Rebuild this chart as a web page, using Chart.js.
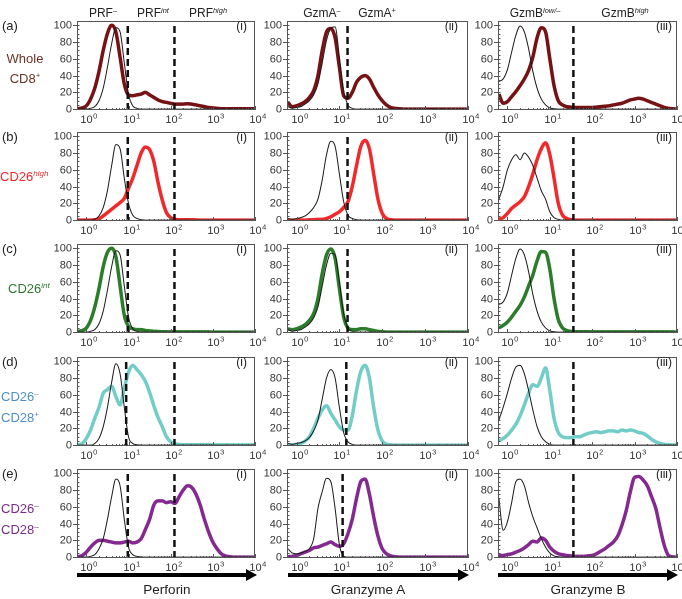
<!DOCTYPE html>
<html><head><meta charset="utf-8">
<script src="https://cdn.jsdelivr.net/npm/chart.js@4.4.1/dist/chart.umd.min.js"></script>
<style>
body{margin:0;width:682px;height:599px;position:relative;background:#fff;font-family:"Liberation Sans",Arial,Helvetica,sans-serif;overflow:hidden;color:#222}
.c,.l,.r{position:absolute;white-space:nowrap;line-height:1}
.c{transform:translate(-50%,-50%)}
.l,.r{transform:translateY(-50%)}
sup{font-size:0.62em;vertical-align:0;position:relative;top:-0.6em}
canvas{position:absolute}
.h{font-size:12px}
.n{font-size:13px}
.p{font-size:12px}
.ttl{font-size:13.5px}
</style></head><body>
<svg style="position:absolute;left:0;top:0" width="682" height="599">
 <line x1="77" y1="575" x2="248" y2="575" stroke="#000" stroke-width="4"/>
 <polygon points="246,569 257,575 246,581" fill="#000"/>
 <line x1="288" y1="575" x2="460" y2="575" stroke="#000" stroke-width="4"/>
 <polygon points="458,569 469,575 458,581" fill="#000"/>
 <line x1="498" y1="575" x2="669" y2="575" stroke="#000" stroke-width="4"/>
 <polygon points="667,569 678,575 667,581" fill="#000"/>
</svg>
<div id="root"></div>
<script>
// ---------- data ----------
const logGrid = [-0.2,-0.1,0,0.1,0.2,0.3,0.4,0.5,0.6,0.7,0.8,0.9,1,1.1,1.2,1.3,1.4,1.5,1.6,1.7,1.8,1.9,2,2.1,2.2,2.3,2.4,2.5,2.6,2.7,2.8,2.9,3,3.1,3.2,3.3,3.4,3.5,3.6,3.7,3.8,3.9,4];
const yTicks = [0,20,40,60,80,100];
const xTickExps = [0,1,2,3,4];
const rowNames = ['a','b','c','d','e'];
const panelTags = ['(i)','(ii)','(iii)'];
const axisTitles = ['Perforin','Granzyme A','Granzyme B'];

// Row (a) Whole CD8+
const a1c = [0,0, 0,1,3,10,25,50,78,97,92,55, 18,4,1,0,0,0,0,0,0,0, 0,0,0,0,0,0,0,0,0,0, 0,0,0,0,0,0,0,0,0,0, 0];
const a1s = [0.5,1.5, 4,12,25,45,70,90,100,92,62,30, 17,16,17,18,20,17,14,11,9,8, 7,6,6,6,6.5,6,5,4,3,2, 1.5,1,0.5,0.5,0.5,0.5,0.5,0.5,0.5,0.5, 0.5];
const a2c = [3,1, 2,3,6,10,17,30,55,82,96,98, 62,22,5,1,0,0,0,0,0,0, 0,0,0,0,0,0,0,0,0,0, 0,0,0,0,0,0,0,0,0,0, 0];
const a2s = [8,3, 4,6,9,14,22,40,70,92,96,85, 50,16,13,20,32,38,40,36,26,17, 10,5,2,1,0.5,0,0,0,0,0, 0,0,0,0,0,0,0,0,0,0, 0];
const a3c = [33,36, 47,68,88,99,92,72,45,25,12,5, 1.5,0.5,0,0,0,0,0,0,0,0, 0,0,0,0,0,0,0,0,0,0, 0,0,0,0,0,0,0,0,0,0, 0];
const a3s = [18,7, 9,15,21,28,36,46,62,85,97,92, 60,28,10,5,3,2.5,2,2,2,2, 2,2.5,3,3.5,4,5,6,7,9,11, 12,13,12,10,8,6,4,2,1,0.5, 0];
// Row (b) CD26 high
const b1c = [0,0, 0,0,1,5,15,35,65,90,85,50, 20,6,2,0.5,0,0,0,0,0,0, 0,0,0,0,0,0,0,0,0,0, 0,0,0,0,0,0,0,0,0,0, 0];
const b1s = [0,0, 0,0,0.5,1.5,5,9,13,17,21,26, 38,50,65,80,87,84,70,45,24,9, 3,1,0.5,0.5,0.5,0.5,0.3,0,0,0, 0,0,0,0,0,0,0,0,0,0, 0];
const b2c = [2,1, 2,3,5,9,15,25,48,78,94,88, 55,22,6,2,0.5,0,0,0,0,0, 0,0,0,0,0,0,0,0,0,0, 0,0,0,0,0,0,0,0,0,0, 0];
const b2s = [0,0, 0,0,0,0.5,0.5,1,1,2,4,7, 10,15,22,40,65,88,95,85,55,25, 8,2,0.5,0,0,0,0,0,0,0, 0,0,0,0,0,0,0,0,0,0, 0];
const b3c = [25,40, 60,72,78,72,80,75,65,50,35,25, 10,3,1,0,0,0,0,0,0,0, 0,0,0,0,0,0,0,0,0,0, 0,0,0,0,0,0,0,0,0,0, 0];
const b3s = [1,3, 8,14,18,22,28,40,55,72,85,92, 78,50,20,6,2,0.5,0,0,0,0, 0,0,0,0,0,0,0,0,0,0, 0,0,0,0,0,0,0,0,0,0, 0];
// Row (c) CD26 int
const c1c = [0,0, 0,1,3,10,25,50,78,97,92,55, 18,4,1,0,0,0,0,0,0,0, 0,0,0,0,0,0,0,0,0,0, 0,0,0,0,0,0,0,0,0,0, 0];
const c1s = [1,2, 5,14,30,52,78,95,100,90,55,20, 7,4,3,3,2,1.5,1,0.8,0.5,0.5, 0.3,0.3,0.3,0.3,0.3,0.3,0.3,0.3,0.3,0.3, 0,0,0,0,0,0,0,0,0,0, 0];
const c2c = [3,1, 2,3,6,10,17,30,55,80,94,92, 60,22,5,1,0,0,0,0,0,0, 0,0,0,0,0,0,0,0,0,0, 0,0,0,0,0,0,0,0,0,0, 0];
const c2s = [4,3, 4,6,9,14,22,40,70,92,99,88, 52,18,5,3,3,4,4,3,2,1, 0.5,0,0,0,0,0,0,0,0,0, 0,0,0,0,0,0,0,0,0,0, 0];
const c3c = [33,36, 47,68,88,99,92,72,45,25,12,5, 1.5,0.5,0,0,0,0,0,0,0,0, 0,0,0,0,0,0,0,0,0,0, 0,0,0,0,0,0,0,0,0,0, 0];
const c3s = [5,8, 12,18,25,32,42,55,68,85,96,95, 75,40,15,5,2,1,0.5,0.5,0.5,0.5, 0.3,0.3,0.3,0.3,0.3,0.3,0.3,0.3,0.3,0.3, 0.3,0.3,0.3,0.3,0.3,0.3,0.3,0.3,0.3,0.3, 0];
// Row (d) CD26- CD28+
const d1c = [0,0, 0,0,2,8,22,45,75,97,85,45, 10,2,0.5,0,0,0,0,0,0,0, 0,0,0,0,0,0,0,0,0,0, 0,0,0,0,0,0,0,0,0,0, 0];
const d1s = [0.5,2, 8,18,32,45,62,66,70,58,48,68, 87,95,90,84,76,63,47,33,22,10, 4,1.5,1,0.5,0.5,0.5,0.5,0.5,0.5,0.5, 0.3,0.3,0.3,0.3,0.3,0.3,0.3,0.3,0.3,0.3, 0.3];
const d2c = [2,1, 2,3,5,9,17,30,55,80,90,80, 45,15,4,1,0,0,0,0,0,0, 0,0,0,0,0,0,0,0,0,0, 0,0,0,0,0,0,0,0,0,0, 0];
const d2s = [0.5,0.5, 1,2,5,10,20,32,42,47,38,30, 22,18,18,35,65,88,95,80,45,18, 5,1,0.5,0,0,0,0,0,0,0, 0,0,0,0,0,0,0,0,0,0, 0];
const d3c = [30,45, 62,80,93,95,85,65,42,22,10,4, 1,0,0,0,0,0,0,0,0,0, 0,0,0,0,0,0,0,0,0,0, 0,0,0,0,0,0,0,0,0,0, 0];
const d3s = [5,8, 12,18,25,35,48,62,72,70,80,92, 65,32,15,10,9,9,10,10,12,14, 15,16,15,16,17,17,16,18,17,18, 17,15,14,11,7,4,2,1,0.5,0.3, 0];
// Row (e) CD26- CD28-
const e1c = [0,0, 0,1,3,10,22,45,72,93,85,45, 12,3,1,0.3,0,0,0,0,0,0, 0,0,0,0,0,0,0,0,0,0, 0,0,0,0,0,0,0,0,0,0, 0];
const e1s = [0.5,2, 6,12,17,20,20,19,18,17,17,18, 19,17,18,22,33,45,62,67,67,65, 66,64,72,80,85,83,75,62,45,30, 18,10,4,1.5,0.5,0,0,0,0,0, 0];
const e2c = [10,5, 4,5,7,10,22,58,78,94,90,58, 15,1,0,0,0,0,0,0,0,0, 0,0,0,0,0,0,0,0,0,0, 0,0,0,0,0,0,0,0,0,0, 0];
const e2s = [0.5,1, 2,4,6,8,11,12,14,16,18,15, 13,16,28,45,70,90,93,75,48,25, 10,4,1.5,0.5,0,0,0,0,0,0, 0,0,0,0,0,0,0,0,0,0, 0];
const e3c = [70,32, 42,65,90,93,85,65,48,35,22,12, 5,1.5,0.5,0,0,0,0,0,0,0, 0,0,0,0,0,0,0,0,0,0, 0,0,0,0,0,0,0,0,0,0, 0];
const e3s = [2,2, 3,4,6,8,11,15,19,18,23,20, 12,7,4,3,2,1.5,1,1,1,1.5, 2,4,7,10,14,18,25,38,55,78, 95,96,92,85,72,58,35,14,2,0.3, 0];

const controls = [[a1c,a2c,a3c],[b1c,b2c,b3c],[c1c,c2c,c3c],[d1c,d2c,d3c],[e1c,e2c,e3c]];
const samples  = [[a1s,a2s,a3s],[b1s,b2s,b3s],[c1s,c2s,c3s],[d1s,d2s,d3s],[e1s,e2s,e3s]];

// gate positions (fluorescence values) per row
const perforinGates = [[9.6,123],[9.6,123],[9.6,123],[8.8,123],[9.6,123]];
const gzmaGates = [[15.5],[15.5],[15.5],[14.5],[11.9]];
const gzmbGates = [[36],[36],[36],[36],[36]];

// ---------- style / layout ----------
const rowColors = ['#761214','#f02a2a','#2b7d2b','#72cdc8','#84298f'];
const colLeft = [77,287,498], colRight = [255,468,677];
const rowZero = [109,220,332,445,557];
const PAD = {left:36, top:5, right:12, bottom:24};
const FONT = '"Liberation Sans", Arial, Helvetica, sans-serif';

const framePlugin = {
  id:'frame',
  afterDatasetsDraw(chart){
    const {ctx, chartArea:a, scales:{x,y}} = chart;
    ctx.save();
    ctx.strokeStyle='#555'; ctx.lineWidth=1;
    ctx.strokeRect(a.left+0.5, a.top+0.5, a.right-a.left-1, a.bottom-a.top-1);
    ctx.fillStyle='#333';
    ctx.font='11px '+FONT; ctx.textAlign='right'; ctx.textBaseline='middle';
    for(let v=0; v<=100; v+=5){
      const py = Math.round(y.getPixelForValue(v))+0.5;
      ctx.beginPath(); ctx.moveTo(a.left, py); ctx.lineTo(a.left+2.5, py); ctx.stroke();
    }
    yTicks.forEach(v=>{
      const py = Math.round(y.getPixelForValue(v))+0.5;
      ctx.beginPath(); ctx.moveTo(a.left-4, py); ctx.lineTo(a.left, py); ctx.stroke();
      ctx.fillText(String(v), a.left-5, py);
    });
    // x ticks
    xTickExps.forEach((k,idx)=>{
      const base = Math.pow(10,k);
      const px = Math.round(x.getPixelForValue(base))+0.5;
      ctx.beginPath(); ctx.moveTo(px, a.bottom); ctx.lineTo(px, a.bottom-4); ctx.stroke();
      if(idx < xTickExps.length-1){
        for(let m=2;m<=9;m++){
          const mx = Math.round(x.getPixelForValue(base*m))+0.5;
          ctx.beginPath(); ctx.moveTo(mx, a.bottom); ctx.lineTo(mx, a.bottom-2); ctx.stroke();
        }
      }
      ctx.font='11px '+FONT; ctx.textAlign='left'; ctx.textBaseline='alphabetic';
      const w = ctx.measureText('10').width;
      ctx.fillText('10', px - w/2, a.bottom+13);
      ctx.font='7.5px '+FONT;
      ctx.fillText(String(k), px + w/2 + 0.5, a.bottom+8.5);
    });
    ctx.restore();
  }
};

const root = document.getElementById('root');
const gatesByCol = [perforinGates, gzmaGates, gzmbGates];

for(let r=0;r<5;r++){
  for(let c=0;c<3;c++){
    const plotTop = rowZero[r]-88, plotH = 89;
    const w = colRight[c]-colLeft[c]+PAD.left+PAD.right;
    const h = plotH+PAD.top+PAD.bottom;
    const cv = document.createElement('canvas');
    cv.width = w; cv.height = h;
    cv.style.left = (colLeft[c]-PAD.left)+'px';
    cv.style.top = (plotTop-PAD.top)+'px';
    cv.style.width = w+'px'; cv.style.height = h+'px';
    root.appendChild(cv);
    const pts = arr => logGrid.map((e,i)=>({x:Math.pow(10,e), y:arr[i]}));
    const gateSets = gatesByCol[c][r].map(g=>({
      data:[{x:g,y:-1},{x:g,y:105}], borderColor:'#111', borderWidth:2.5, borderDash:[7,4],
      pointRadius:0, fill:false, tension:0
    }));
    new Chart(cv, {
      type:'line',
      data:{datasets:[
        ...gateSets,
        {data:pts(controls[r][c]), borderColor:'#1a1a1a', borderWidth:1, pointRadius:0, fill:false, cubicInterpolationMode:'monotone'},
        {data:pts(samples[r][c]), borderColor:rowColors[r], borderWidth:3.5, pointRadius:0, fill:false, cubicInterpolationMode:'monotone'}
      ]},
      options:{
        responsive:false, animation:false, devicePixelRatio:2,
        layout:{padding:PAD},
        plugins:{legend:{display:false}, tooltip:{enabled:false}},
        scales:{
          x:{type:'logarithmic', min:Math.pow(10,-0.2), max:1e4, display:false},
          y:{type:'linear', min:-1, max:105, display:false}
        }
      },
      plugins:[framePlugin]
    });
  }
}

// ---------- text ----------
function addText(cls, html, x, y, color, align){
  const d = document.createElement('div');
  d.className = cls + ' ' + (align||'c');
  d.innerHTML = html;
  if(align==='r'){ d.style.right = (682-x)+'px'; } else { d.style.left = x+'px'; }
  d.style.top = y+'px';
  if(color) d.style.color = color;
  document.body.appendChild(d);
}
// column headers
addText('h','PRF<sup>–</sup>',103,13);
addText('h','PRF<sup><i>int</i></sup>',153,13);
addText('h','PRF<sup><i>high</i></sup>',208,13);
addText('h','GzmA<sup>–</sup>',322,13);
addText('h','GzmA<sup>+</sup>',377,13);
addText('h','GzmB<sup><i>low/–</i></sup>',535,13);
addText('h','GzmB<sup><i>high</i></sup>',625,13);
// row letters
rowNames.forEach((n,r)=>addText('n','('+n+')',2,rowZero[r]-84,'#222','l'));
// population names
addText('n','Whole',25,58,'#6b3326');
addText('n','CD8<sup>+</sup>',25,79,'#6b3326');
addText('n','CD26<sup><i>high</i></sup>',0,177,'#ee2a2a','l');
addText('n','CD26<sup><i>int</i></sup>',8,289,'#2f7a2f','l');
addText('n','CD26<sup>–</sup>',1,397,'#4f8fc9','l');
addText('n','CD28<sup>+</sup>',1,418,'#4f8fc9','l');
addText('n','CD26<sup>–</sup>',1,509,'#7c2b8c','l');
addText('n','CD28<sup>–</sup>',1,530,'#7c2b8c','l');
// panel tags
const tagRight = [247,458,672];
for(let r=0;r<5;r++) for(let c=0;c<3;c++) addText('p',panelTags[c],tagRight[c],rowZero[r]-83,'#222','r');
// axis titles
addText('ttl',axisTitles[0],167,590);
addText('ttl',axisTitles[1],368,590);
addText('ttl',axisTitles[2],588,590);
</script>
</body></html>
